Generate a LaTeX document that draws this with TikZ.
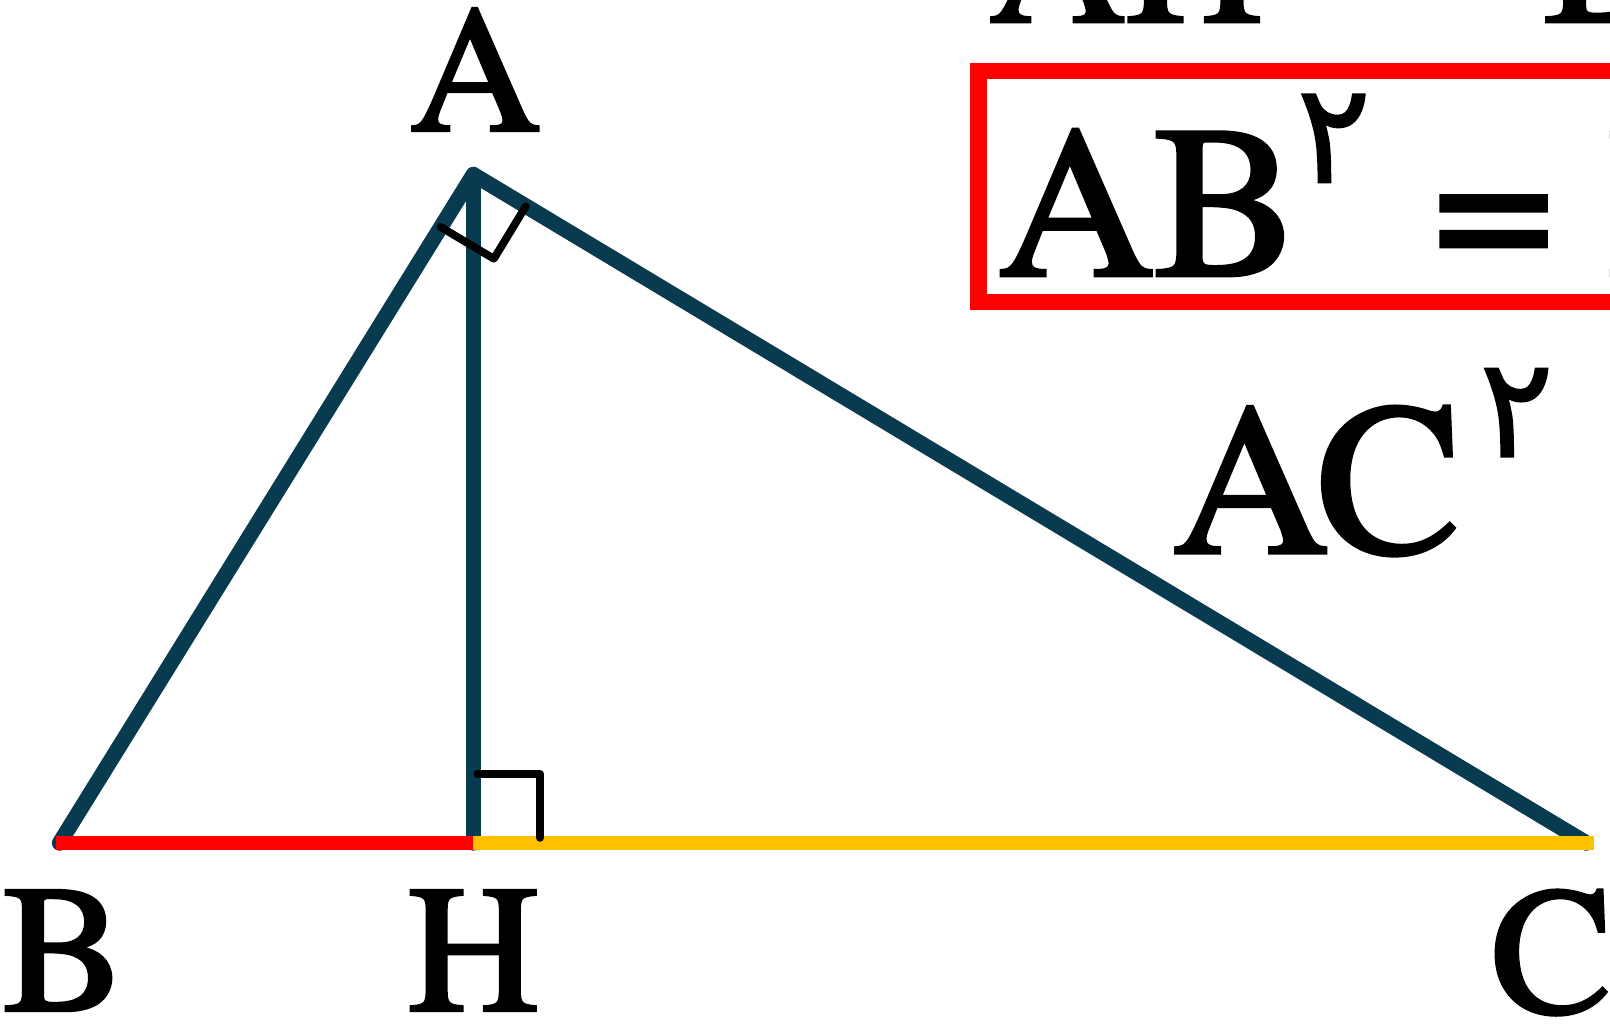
\documentclass[tikz,border=0pt]{standalone}
\usepackage{fontspec}
\setmainfont{TeX Gyre Termes}[FakeBold=2]
\newfontfamily\digfont{DejaVu Sans}[FakeBold=1]
\usetikzlibrary{calc,shadows}
\definecolor{navy}{RGB}{8,58,80}
\definecolor{mred}{RGB}{255,0,0}
\definecolor{myellow}{RGB}{255,192,0}
\begin{document}
\begin{tikzpicture}[x=0.5pt,y=-0.5pt,
  side/.style={draw=navy,line width=7.5pt,line cap=round,line join=round},
  baseseg/.style={line width=7pt,line cap=butt},
  ramark/.style={draw=black,line width=3.8pt,line join=round,line cap=round},
  lab/.style={inner sep=0pt,font=\fontsize{88}{88}\selectfont},
  big/.style={inner sep=0pt,anchor=base west,font=\fontsize{105}{105}\selectfont},
  sup/.style={inner sep=0pt,anchor=base west,font=\digfont\fontsize{68}{68}\selectfont},
  toplab/.style={inner sep=0pt,anchor=base west,font=\fontsize{92}{92}\selectfont}]
\useasboundingbox (0,0) rectangle (1568,1000);
\clip (0,0) rectangle (1568,1000);
\fill[white] (0,0) rectangle (1568,1000);

% triangle
\coordinate (A) at (461,170);
\coordinate (B) at (58,821);
\coordinate (C) at (1545,821);
\coordinate (H) at (461,821);
\coordinate (Bs) at (55,821);
\coordinate (Ce) at (1552,821);

\draw[side] (B) -- (A) -- (C);
\draw[side] (A) -- (H);
\draw[baseseg,draw=mred] (Bs) -- (H);
\draw[baseseg,draw=myellow] (H) -- (Ce);

% right angle marks
\coordinate (ra1) at (429,221);
\coordinate (ra2) at (481,252);
\coordinate (ra3) at (512,201);
\draw[ramark] (ra1) -- (ra2) -- (ra3);
\coordinate (rh1) at (465,754);
\coordinate (rh2) at (526,754);
\coordinate (rh3) at (526,816);
\draw[ramark] (rh1) -- (rh2) -- (rh3);

% vertex labels
\node[lab,anchor=base] (lA) at (463,127) {A};
\node[lab,anchor=base] (lB) at (62,984) {B};
\node[lab,anchor=base] (lH) at (461,984) {H};
\node[lab,anchor=base west] (lC) at (1452,986) {C};

% AC^2 label
\node[big] (ac) at (1142,538) {AC};
\node[sup] (ac2) at (1440,445) {۲};

% top partial line
\node[toplab] (ah) at (963,21) {AH};
\node[toplab] (bh) at (1503,21) {BH};

% red box
\path[draw=mred,line width=8pt,fill=white,
  drop shadow={shadow xshift=1pt,shadow yshift=-3.5pt,opacity=0.5,fill=gray}]
  (953,69) rectangle (1640,294);
\node[big] (ab) at (972,268) {AB};
\node[sup] (ab2) at (1262,178) {۲};
\node[big] (eq) at (1395,268) {=};
\node[big] (rest) at (1566,268) {BH × BC};
\end{tikzpicture}
\end{document}
